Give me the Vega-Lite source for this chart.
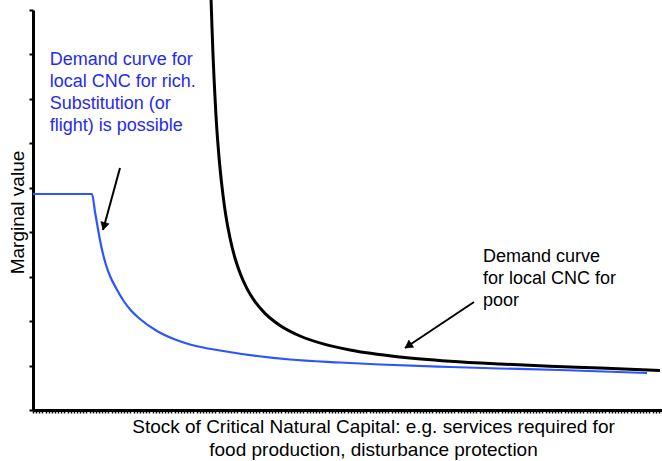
{
  "$schema": "https://vega.github.io/schema/vega-lite/v6.json",
  "width": 629,
  "height": 400,
  "autosize": {"type": "none"},
  "padding": {"left": 33, "top": 10, "right": 0, "bottom": 51},
  "background": "white",
  "config": {"view": {"stroke": null}, "font": "Liberation Sans"},
  "datasets": {
    "rich": [
      {"x": 0, "y": 4.86}, {"x": 9.38, "y": 4.86}, {"x": 9.86, "y": 4.455}, {"x": 10.33, "y": 4.073},
      {"x": 10.65, "y": 3.825}, {"x": 11.13, "y": 3.51}, {"x": 11.61, "y": 3.263}, {"x": 12.24, "y": 3.015},
      {"x": 13.2, "y": 2.745}, {"x": 14.31, "y": 2.475}, {"x": 15.58, "y": 2.239}, {"x": 17.01, "y": 2.048},
      {"x": 19.71, "y": 1.778}, {"x": 22.58, "y": 1.586}, {"x": 24.96, "y": 1.474}, {"x": 30.21, "y": 1.328},
      {"x": 35.61, "y": 1.215}, {"x": 40.86, "y": 1.136}, {"x": 48.81, "y": 1.069}, {"x": 55.17, "y": 1.024},
      {"x": 66.3, "y": 0.968}, {"x": 74.24, "y": 0.934}, {"x": 83.78, "y": 0.9}, {"x": 97.62, "y": 0.833}
    ],
    "poor": [
      {"x": 28.31, "y": 9.226}, {"x": 28.46, "y": 8.595}, {"x": 28.62, "y": 7.988}, {"x": 28.78, "y": 7.47},
      {"x": 28.94, "y": 7.026}, {"x": 29.09, "y": 6.627}, {"x": 29.41, "y": 5.97}, {"x": 29.73, "y": 5.445},
      {"x": 30.21, "y": 4.828}, {"x": 30.68, "y": 4.353}, {"x": 31.32, "y": 3.87}, {"x": 32.11, "y": 3.42},
      {"x": 32.91, "y": 3.083}, {"x": 34.02, "y": 2.732}, {"x": 35.29, "y": 2.439}, {"x": 36.88, "y": 2.174},
      {"x": 39.27, "y": 1.901}, {"x": 42.45, "y": 1.665}, {"x": 46.42, "y": 1.476}, {"x": 50.4, "y": 1.35},
      {"x": 58.35, "y": 1.193}, {"x": 66.3, "y": 1.098}, {"x": 74.24, "y": 1.035}, {"x": 82.19, "y": 0.985},
      {"x": 90.14, "y": 0.945}, {"x": 99.68, "y": 0.889}
    ],
    "arrows": [
      {"x": 13.83, "y": 5.445, "x2": 11.13, "y2": 4.05, "hx": 11.34, "hy": 4.16, "heading": 195},
      {"x": 70.11, "y": 2.43, "x2": 59.14, "y2": 1.395, "hx": 59.81, "hy": 1.46, "heading": 236}
    ],
    "richText": [
      {"x": 2.65, "y": 7.763, "t": "Demand curve for"},
      {"x": 2.65, "y": 7.268, "t": "local CNC for rich."},
      {"x": 2.65, "y": 6.773, "t": "Substitution (or"},
      {"x": 2.65, "y": 6.278, "t": "flight) is possible"}
    ],
    "poorText": [
      {"x": 71.54, "y": 3.33, "t": "Demand curve"},
      {"x": 71.54, "y": 2.835, "t": "for local CNC for"},
      {"x": 71.54, "y": 2.34, "t": "poor"}
    ]
  },
  "layer": [
    {
      "data": {"name": "rich"},
      "mark": {"type": "line", "color": "#2b55ff", "strokeWidth": 2.2, "interpolate": "monotone"},
      "encoding": {
        "x": {
          "field": "x", "type": "quantitative",
          "scale": {"domain": [0, 100], "nice": false, "zero": false},
          "axis": {
            "labels": false, "grid": false, "tickCount": 200, "tickSize": 3, "tickWidth": 1.5,
            "tickColor": "#000", "domainColor": "#000", "domainWidth": 3,
            "title": ["Stock of Critical Natural Capital: e.g. services required for", "food production, disturbance protection"],
            "titleFont": "Liberation Sans", "titleFontSize": 19, "titleFontWeight": "normal", "titleColor": "#000",
            "titleX": 340, "titleY": 7, "titleBaseline": "top", "titleAlign": "center", "titleLineHeight": 23
          }
        },
        "y": {
          "field": "y", "type": "quantitative",
          "scale": {"domain": [0, 9], "nice": false, "zero": false},
          "axis": {
            "labels": false, "grid": false, "values": [0, 1, 2, 3, 4, 5, 6, 7, 8, 9], "tickSize": 4, "tickWidth": 2,
            "tickColor": "#000", "domainColor": "#000", "domainWidth": 3,
            "title": "Marginal value",
            "titleFont": "Liberation Sans", "titleFontSize": 19, "titleFontWeight": "normal", "titleColor": "#000",
            "titleX": -16, "titleY": 202, "titleBaseline": "middle", "titleAlign": "center", "titleAngle": -90
          }
        }
      }
    },
    {
      "data": {"name": "poor"},
      "mark": {"type": "line", "color": "#000000", "strokeWidth": 3, "interpolate": "monotone"},
      "encoding": {
        "x": {"field": "x", "type": "quantitative"},
        "y": {"field": "y", "type": "quantitative"}
      }
    },
    {
      "data": {"name": "arrows"},
      "mark": {"type": "rule", "color": "#000", "strokeWidth": 2},
      "encoding": {
        "x": {"field": "x", "type": "quantitative"},
        "y": {"field": "y", "type": "quantitative"},
        "x2": {"field": "x2"},
        "y2": {"field": "y2"}
      }
    },
    {
      "data": {"name": "arrows"},
      "mark": {"type": "point", "shape": "triangle", "filled": true, "fill": "#000", "stroke": "#000", "strokeWidth": 0.5, "size": 75, "opacity": 1},
      "encoding": {
        "x": {"field": "hx", "type": "quantitative"},
        "y": {"field": "hy", "type": "quantitative"},
        "angle": {"field": "heading", "type": "quantitative", "scale": null}
      }
    },
    {
      "data": {"name": "richText"},
      "mark": {"type": "text", "align": "left", "baseline": "alphabetic", "font": "Liberation Sans", "fontSize": 18, "color": "#1f2bf0"},
      "encoding": {
        "x": {"field": "x", "type": "quantitative"},
        "y": {"field": "y", "type": "quantitative"},
        "text": {"field": "t"}
      }
    },
    {
      "data": {"name": "poorText"},
      "mark": {"type": "text", "align": "left", "baseline": "alphabetic", "font": "Liberation Sans", "fontSize": 18, "color": "#000"},
      "encoding": {
        "x": {"field": "x", "type": "quantitative"},
        "y": {"field": "y", "type": "quantitative"},
        "text": {"field": "t"}
      }
    }
  ]
}
